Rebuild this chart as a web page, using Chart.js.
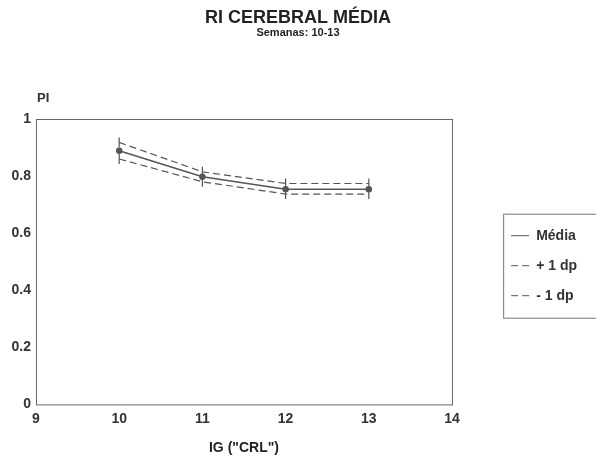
<!DOCTYPE html>
<html>
<head>
<meta charset="utf-8">
<script src="https://cdn.jsdelivr.net/npm/chart.js@4"></script>
<style>
  html, body { margin: 0; padding: 0; background: #fff; }
  #wrap { width: 596px; height: 462px; }
</style>
</head>
<body>
<div id="wrap"><canvas id="riChart"></canvas></div>
<script>
const semanas = [10, 11, 12, 13];
const media = [0.889, 0.798, 0.754, 0.754];
const maisDp = [0.918, 0.815, 0.774, 0.774];
const menosDp = [0.860, 0.780, 0.737, 0.737];
const yTicks = [0, 0.2, 0.4, 0.6, 0.8, 1];

const toPoints = arr => arr.map((v, i) => ({ x: semanas[i], y: v }));
const gray = '#555';
const fontFam = '"Liberation Sans", Arial, sans-serif';

// legend widened and pushed to the right edge, then frame the plot,
// write "PI" and draw a box round the legend
const framePlugin = {
  id: 'frame',
  beforeLayout(chart) {
    const lg = chart.legend;
    if (lg && !lg._widened) {
      const fit = lg.fit.bind(lg);
      lg.fit = function () { fit(); this.width += 9; };
      lg._widened = true;
    }
  },
  afterLayout(chart) {
    const lg = chart.legend;
    if (!lg) return;
    const dx = chart.width - lg.right;
    lg.left += dx; lg.right += dx;
    lg.top += 4; lg.bottom += 4;
  },
  afterDraw(chart) {
    const { ctx, chartArea: a, legend } = chart;
    ctx.save();
    ctx.strokeStyle = '#666';
    ctx.lineWidth = 1;
    ctx.strokeRect(a.left + 0.5, a.top + 0.5, a.right - a.left, a.bottom - a.top);
    ctx.fillStyle = '#333';
    ctx.font = 'bold 13px ' + fontFam;
    ctx.textAlign = 'left';
    ctx.textBaseline = 'middle';
    ctx.fillText('PI', a.left + 1, a.top - 21);
    if (legend && legend.legendHitBoxes.length) {
      const hb = legend.legendHitBoxes;
      const top = hb[0].top - 15;
      const bottom = hb[hb.length - 1].top + hb[hb.length - 1].height + 15;
      const left = hb[0].left - 8;
      ctx.strokeStyle = '#777';
      ctx.strokeRect(left + 0.5, top + 0.5, chart.width - left + 2, bottom - top);
    }
    ctx.restore();
  }
};

new Chart(document.getElementById('riChart'), {
  type: 'line',
  data: {
    datasets: [
      {
        label: 'Média',
        data: toPoints(media),
        borderColor: gray,
        backgroundColor: gray,
        borderWidth: 1.5,
        pointRadius: 2.5,
        pointStyle: 'circle'
      },
      {
        label: '+ 1 dp',
        data: toPoints(maisDp),
        borderColor: gray,
        backgroundColor: gray,
        borderWidth: 1.2,
        borderDash: [7, 4],
        pointStyle: 'line',
        rotation: 90,
        pointRadius: 5
      },
      {
        label: '- 1 dp',
        data: toPoints(menosDp),
        borderColor: gray,
        backgroundColor: gray,
        borderWidth: 1.2,
        borderDash: [7, 4],
        pointStyle: 'line',
        rotation: 90,
        pointRadius: 5
      }
    ]
  },
  options: {
    responsive: true,
    maintainAspectRatio: false,
    animation: false,
    layout: { padding: { top: 7, right: 0, left: 0, bottom: 5 } },
    plugins: {
      title: {
        display: true,
        text: 'RI CEREBRAL MÉDIA',
        color: '#222',
        font: { family: fontFam, size: 18, weight: 'bold', lineHeight: 1 },
        padding: { top: 2, bottom: 0 }
      },
      subtitle: {
        display: true,
        text: 'Semanas: 10-13',
        color: '#222',
        font: { family: fontFam, size: 11, weight: 'bold', lineHeight: 1 },
        padding: { top: 0, bottom: 81 }
      },
      legend: {
        position: 'right',
        fullSize: false,
        labels: {
          color: '#333',
          font: { family: fontFam, size: 14, weight: 'bold' },
          padding: 16,
          usePointStyle: true,
          pointStyleWidth: 18,
          generateLabels(chart) {
            return chart.data.datasets.map((ds, i) => ({
              text: ds.label,
              fillStyle: ds.borderColor,
              strokeStyle: ds.borderColor,
              fontColor: '#333',
              lineWidth: 1,
              lineDash: ds.borderDash || [],
              pointStyle: 'line',
              rotation: 0,
              datasetIndex: i
            }));
          }
        }
      },
      tooltip: { enabled: false }
    },
    scales: {
      x: {
        type: 'linear',
        min: 9,
        max: 14,
        afterFit(scale) {
          scale.paddingRight = 144;
        },
        ticks: {
          stepSize: 1,
          color: '#333',
          padding: 6,
          font: { family: fontFam, size: 14, weight: 'bold' }
        },
        grid: { display: false, drawTicks: false },
        border: { display: false },
        title: {
          display: true,
          text: 'IG ("CRL")',
          color: '#222',
          font: { family: fontFam, size: 14, weight: 'bold' },
          padding: { top: 7, bottom: 0 }
        }
      },
      y: {
        min: 0,
        max: 1,
        afterBuildTicks(scale) {
          scale.ticks = yTicks.map(v => ({ value: v }));
        },
        afterFit(scale) {
          scale.width = 36;
        },
        ticks: {
          color: '#333',
          padding: 5,
          font: { family: fontFam, size: 14, weight: 'bold' },
          callback: v => String(v)
        },
        grid: { display: false, drawTicks: false },
        border: { display: false }
      }
    }
  },
  plugins: [framePlugin]
});
</script>
</body>
</html>
